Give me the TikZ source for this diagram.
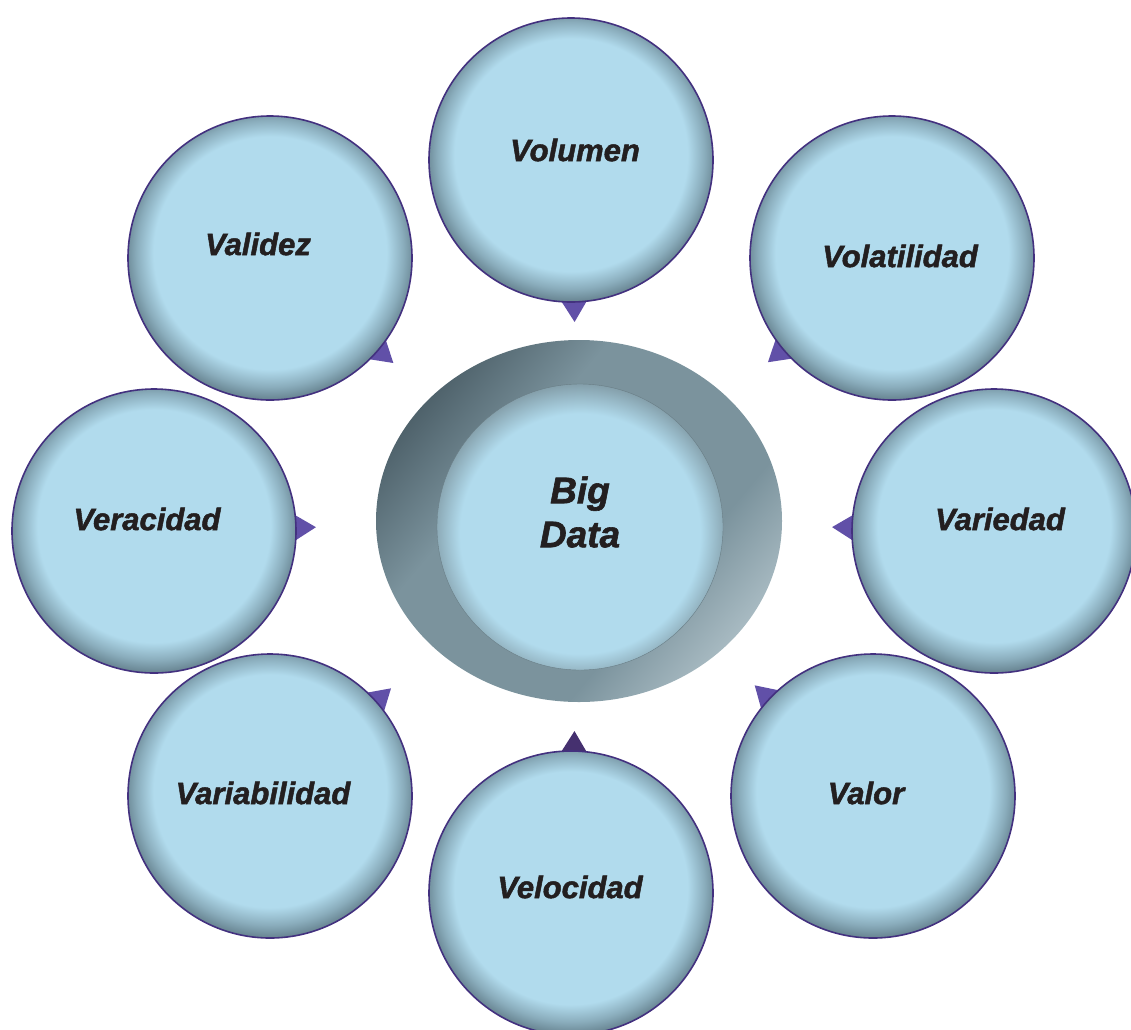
\documentclass[tikz,border=0pt]{standalone}
\usepackage{fontspec}
\newfontfamily\bdfont[BoldItalicFeatures={FakeBold=1.6}]{Liberation Sans}
\usetikzlibrary{calc}
\usetikzlibrary{backgrounds}
\usetikzlibrary{shapes.geometric}

\definecolor{bubble}{HTML}{B1DBED}
\definecolor{bubbleedge}{HTML}{5A7480}
\definecolor{rim}{HTML}{43317F}
\definecolor{tip}{HTML}{6150A8}
\definecolor{tipdark}{HTML}{45306F}
\definecolor{ink}{HTML}{231F20}
\definecolor{ringdark}{HTML}{4C5F68}
\definecolor{ringmid}{HTML}{7B939D}
\definecolor{ringlight}{HTML}{B3C4CB}

\pgfdeclareradialshading{bubbleshade}{\pgfpoint{0bp}{1.5bp}}{color(0bp)=(bubble); color(20.5bp)=(bubble); color(23.5bp)=(bubble!55!bubbleedge); color(26.5bp)=(bubbleedge); color(50bp)=(bubbleedge)}
\pgfdeclareradialshading{holeshade}{\pgfpoint{0bp}{-2bp}}{color(0bp)=(bubble); color(21bp)=(bubble); color(24bp)=(bubble!50!ringmid); color(27bp)=(ringmid); color(50bp)=(ringmid)}
\pgfdeclarehorizontalshading{ringshade}{100bp}{color(0bp)=(ringdark); color(24bp)=(ringdark); color(38bp)=(ringmid); color(64bp)=(ringmid); color(78bp)=(ringlight); color(100bp)=(ringlight)}

\begin{document}
\begin{tikzpicture}[x=1pt,y=1pt,
    bubble/.style={circle,draw=rim,line width=1.6pt,minimum size=284pt,inner sep=0pt,shade,shading=bubbleshade},
    word/.style={font=\bdfont\bfseries\itshape\fontsize{31}{36}\selectfont,text=ink},
    bigword/.style={font=\bdfont\bfseries\itshape\fontsize{37}{44}\selectfont,text=ink,align=center},
    tipmark/.style={fill=tip}]
\useasboundingbox (0,0) rectangle (1131,-1029);

% centre
\node[ellipse,minimum width=406pt,minimum height=362pt,inner sep=0pt,shade,shading=ringshade,shading angle=-40] (bd) at (579,-521) {};
\node[circle,minimum size=286pt,inner sep=0pt,shade,shading=holeshade,draw=ringmid!85!black,line width=0.4pt,
      label={[bigword,yshift=15pt]center:Big\\Data}] (core) at (580,-527) {};

% the eight V's
\node[bubble,label={[word,xshift=4pt,yshift=10pt]center:Volumen}] (vol) at (571,-160) {};
\node[bubble,label={[word,xshift=8pt,yshift=2pt]center:Volatilidad}] (vola) at (892,-258) {};
\node[bubble,label={[word,xshift=6pt,yshift=12pt]center:Variedad}] (vari) at (994,-531) {};
\node[bubble,label={[word,xshift=-7pt,yshift=3pt]center:Valor}] (valo) at (873,-796) {};
\node[bubble,label={[word,xshift=-1pt,yshift=6pt]center:Velocidad}] (velo) at (571,-893) {};
\node[bubble,label={[word,xshift=-7pt,yshift=3pt]center:Variabilidad}] (varb) at (270,-796) {};
\node[bubble,label={[word,xshift=-7pt,yshift=12pt]center:Veracidad}] (vera) at (154,-531) {};
\node[bubble,label={[word,xshift=-12pt,yshift=14pt]center:Validez}] (vali) at (270,-258) {};

% pointers toward the centre
\begin{scope}[on background layer]
  \foreach \v in {vol,vola,vari,valo,varb,vera,vali}
    \fill[tipmark] ($(\v.center)!139pt!6:(bd.center)$) -- ($(\v.center)!162pt!(bd.center)$) -- ($(\v.center)!139pt!-6:(bd.center)$) -- cycle;
  \fill[tipmark,fill=tipdark] ($(velo.center)!139pt!6:(bd.center)$) -- ($(velo.center)!162pt!(bd.center)$) -- ($(velo.center)!139pt!-6:(bd.center)$) -- cycle;
\end{scope}
\end{tikzpicture}
\end{document}
